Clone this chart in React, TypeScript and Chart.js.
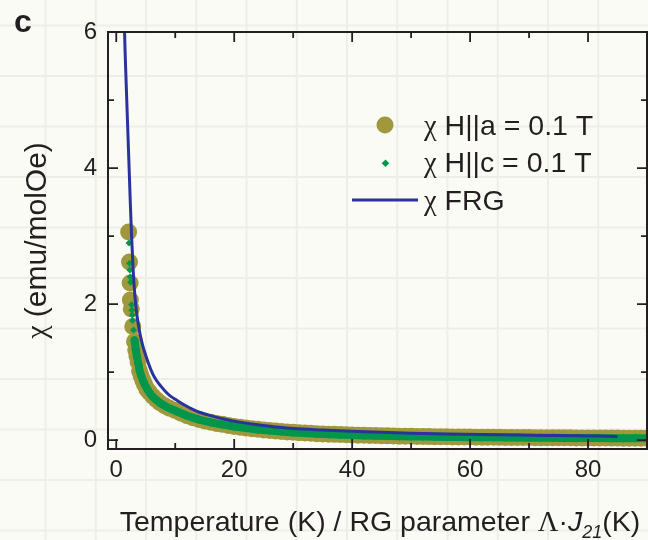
import React, { useEffect, useRef } from 'react';
import { Chart, registerables } from 'chart.js';

Chart.register(...registerables);

// ---------- data ----------
const oliveT = [
  2.1, 2.25, 2.35, 2.4, 2.55, 2.8, 3.1, 3.3, 3.5, 3.7, 3.95, 4.2, 4.5, 4.8, 5.2, 5.65, 6.2, 6.8, 7.4, 8.2, 9.0,
  10, 11, 12, 13, 14, 15, 16, 17, 18, 19, 20, 21, 22, 23, 24, 25, 26, 27, 28, 29, 30,
  31, 32, 33, 34, 35, 36, 37, 38, 39, 40, 41, 42, 43, 44, 45, 46, 47, 48, 49, 50,
  51, 52, 53, 54, 55, 56, 57, 58, 59, 60, 61, 62, 63, 64, 65, 66, 67, 68, 69, 70,
  71, 72, 73, 74, 75, 76, 77, 78, 79, 80, 81, 82, 83, 84, 85, 86, 87, 88, 89, 90, 91, 92,
];
const oliveChi = [
  3.06, 2.62, 2.31, 2.06, 1.93, 1.67, 1.45, 1.33, 1.24, 1.15, 1.02, 0.95, 0.88, 0.82, 0.75, 0.7, 0.645, 0.595, 0.55, 0.505, 0.47,
  0.435, 0.395, 0.36, 0.33, 0.303, 0.28, 0.262, 0.245, 0.232, 0.216, 0.202, 0.19, 0.179, 0.168, 0.159, 0.15, 0.142, 0.135, 0.128, 0.121, 0.115,
  0.11, 0.105, 0.1, 0.096, 0.092, 0.088, 0.085, 0.082, 0.079, 0.076, 0.073, 0.071, 0.069, 0.067, 0.065, 0.063, 0.061, 0.059, 0.058, 0.056,
  0.055, 0.053, 0.052, 0.051, 0.05, 0.049, 0.048, 0.047, 0.046, 0.045, 0.044, 0.043, 0.043, 0.042, 0.041, 0.04, 0.04, 0.039, 0.038, 0.038,
  0.037, 0.036, 0.036, 0.035, 0.035, 0.034, 0.034, 0.033, 0.033, 0.032, 0.032, 0.031, 0.031, 0.03, 0.03, 0.029, 0.029, 0.029, 0.028, 0.028, 0.027, 0.027,
];

const greenT = [
  2.17, 2.26, 2.31, 2.38, 2.43, 2.6, 2.65, 2.72, 2.77, 2.94, 3.1, 3.3, 3.5, 3.75, 4.0, 4.3, 4.6, 5.0, 5.5, 6.0, 6.6, 7.3, 8.0, 9.0,
  10, 12, 14, 16, 18, 20, 22, 24, 26, 28, 30, 32, 34, 36, 38, 40, 42, 44, 46, 48, 50,
  52, 54, 56, 58, 60, 62, 64, 66, 68, 70, 72, 74, 76, 78, 80, 82, 84, 86, 88, 90, 92,
];
const greenChi = [
  2.9, 2.6, 2.5, 2.4, 2.32, 1.99, 1.91, 1.84, 1.76, 1.62, 1.47, 1.34, 1.23, 1.12, 1.01, 0.93, 0.86, 0.79, 0.715, 0.655, 0.605, 0.555, 0.515, 0.47,
  0.432, 0.358, 0.302, 0.262, 0.229, 0.2, 0.178, 0.158, 0.141, 0.127, 0.114, 0.104, 0.095, 0.087, 0.081, 0.075, 0.07, 0.066, 0.062, 0.058, 0.055,
  0.052, 0.05, 0.048, 0.046, 0.044, 0.042, 0.041, 0.039, 0.038, 0.037, 0.035, 0.034, 0.033, 0.032, 0.031, 0.03, 0.029, 0.028, 0.028, 0.027, 0.026,
];

const frgT = [
  1.35, 1.41, 1.6, 1.8, 2.0, 2.2, 2.4, 2.6, 2.8, 3.0, 3.4, 3.9, 4.4, 4.8, 5.5, 6.2, 6.8, 7.6, 8.5, 9.3, 10.2,
  11.5, 12.8, 14.1, 16, 18, 20.9, 24, 27, 30, 35, 40, 45, 50, 56, 62, 68, 75, 85,
];
const frgChi = [
  6.3, 6.0, 5.45, 4.95, 4.45, 3.95, 3.45, 3.0, 2.62, 2.3, 1.91, 1.62, 1.42, 1.3, 1.12, 0.97, 0.88, 0.79, 0.7, 0.64, 0.59,
  0.52, 0.46, 0.41, 0.36, 0.315, 0.265, 0.225, 0.195, 0.17, 0.148, 0.13, 0.115, 0.103, 0.092, 0.083, 0.075, 0.067, 0.055,
];

const xMajorTicks = [0, 20, 40, 60, 80];
const xTickLabels = ['0', '20', '40', '60', '80'];
const yMajorTicks = [0, 2, 4, 6];
const yTickLabels = ['0', '2', '4', '6'];
const legendLabels = [' H||a = 0.1 T', ' H||c = 0.1 T', ' FRG'];
const chiSymbol = 'χ';
const panelLabel = 'c';
const yTitleRest = ' (emu/molOe)';
const xTitleMain = 'Temperature (K) / RG parameter ';
const xTitleLambda = 'Λ';
const xTitleDot = '·';
const xTitleJ = 'J';
const xTitleSub = '21';
const xTitleUnit = '(K)';

// ---------- styles ----------
const OLIVE = '#a0983c';
const GREEN = '#00964b';
const BLUE = '#2a339c';
const INK = '#231f20';
const BG = '#fbfbf6';
const SANS = '"Liberation Sans", Arial, Helvetica, sans-serif';
const SERIF = '"Liberation Serif", "Times New Roman", serif';

const pts = (xs: number[], ys: number[]) => xs.map((x, i) => ({ x, y: ys[i] }));

type Run = { text: string; font: string; dy?: number };

function runsWidth(ctx: CanvasRenderingContext2D, runs: Run[]) {
  let w = 0;
  for (const r of runs) {
    ctx.font = r.font;
    w += ctx.measureText(r.text).width;
  }
  return w;
}

function drawRuns(ctx: CanvasRenderingContext2D, runs: Run[], x: number, y: number) {
  let cx = x;
  for (const r of runs) {
    ctx.font = r.font;
    ctx.fillText(r.text, cx, y + (r.dy || 0));
    cx += ctx.measureText(r.text).width;
  }
}

const decorPlugin = {
  id: 'decor',
  beforeDraw(chart: any) {
    const { ctx, width, height } = chart;
    ctx.save();
    ctx.fillStyle = BG;
    ctx.fillRect(0, 0, width, height);
    ctx.strokeStyle = 'rgba(110,110,100,0.09)';
    ctx.lineWidth = 2;
    ctx.beginPath();
    for (let x = 45.5; x < width; x += 50.25) {
      ctx.moveTo(x, 0);
      ctx.lineTo(x, height);
    }
    for (let y = 25.5; y < height; y += 50.5) {
      ctx.moveTo(0, y);
      ctx.lineTo(width, y);
    }
    ctx.stroke();
    ctx.restore();
  },
  afterDraw(chart: any) {
    const { ctx, chartArea } = chart;
    const { left, right, top, bottom } = chartArea;
    const xs = chart.scales.x;
    const ys = chart.scales.y;
    ctx.save();
    ctx.strokeStyle = INK;
    ctx.fillStyle = INK;
    // frame
    ctx.lineWidth = 2;
    ctx.strokeRect(left, top, right - left, bottom - top);
    // ticks (inward, mirrored)
    ctx.lineWidth = 1.8;
    ctx.beginPath();
    for (const t of xs.ticks) {
      const px = xs.getPixelForValue(t.value);
      const len = xMajorTicks.includes(t.value) ? 10 : 6;
      ctx.moveTo(px, bottom);
      ctx.lineTo(px, bottom - len);
      ctx.moveTo(px, top);
      ctx.lineTo(px, top + len);
    }
    for (const t of ys.ticks) {
      const py = ys.getPixelForValue(t.value);
      const len = yMajorTicks.includes(t.value) ? 10 : 6;
      ctx.moveTo(left, py);
      ctx.lineTo(left + len, py);
      ctx.moveTo(right, py);
      ctx.lineTo(right - len, py);
    }
    ctx.stroke();

    // panel label
    ctx.textAlign = 'left';
    ctx.textBaseline = 'alphabetic';
    ctx.font = `bold 32px ${SANS}`;
    ctx.fillText(panelLabel, 14, 32);

    // x title
    const xRuns: Run[] = [
      { text: xTitleMain, font: `28.5px ${SANS}` },
      { text: xTitleLambda, font: `28.5px ${SERIF}` },
      { text: xTitleDot, font: `28.5px ${SANS}` },
      { text: xTitleJ, font: `italic 28.5px ${SANS}` },
      { text: xTitleSub, font: `italic 18px ${SANS}`, dy: 7 },
      { text: xTitleUnit, font: `28.5px ${SANS}` },
    ];
    const xw = runsWidth(ctx, xRuns);
    drawRuns(ctx, xRuns, 380 - xw / 2, 531);

    // y title
    const yRuns: Run[] = [
      { text: chiSymbol, font: `30px ${SERIF}` },
      { text: yTitleRest, font: `30px ${SANS}` },
    ];
    ctx.save();
    ctx.translate(38, (top + bottom) / 2);
    ctx.rotate(-Math.PI / 2);
    ctx.textBaseline = 'middle';
    const yw = runsWidth(ctx, yRuns);
    drawRuns(ctx, yRuns, -yw / 2, 0);
    ctx.restore();

    // legend
    const lx = 424;
    const rows = [135, 172, 210];
    ctx.fillStyle = OLIVE;
    ctx.beginPath();
    ctx.arc(385, 125, 8.5, 0, Math.PI * 2);
    ctx.fill();
    ctx.fillStyle = GREEN;
    ctx.beginPath();
    ctx.moveTo(385.5, 163.3 - 3.8);
    ctx.lineTo(389.3, 163.3);
    ctx.lineTo(385.5, 163.3 + 3.8);
    ctx.lineTo(381.7, 163.3);
    ctx.closePath();
    ctx.fill();
    ctx.strokeStyle = BLUE;
    ctx.lineWidth = 3.2;
    ctx.beginPath();
    ctx.moveTo(352, 200);
    ctx.lineTo(418, 200);
    ctx.stroke();
    ctx.fillStyle = INK;
    legendLabels.forEach((lab, i) => {
      drawRuns(
        ctx,
        [
          { text: chiSymbol, font: `28.5px ${SERIF}` },
          { text: lab, font: `28.5px ${SANS}` },
        ],
        lx,
        rows[i]
      );
    });
    ctx.restore();
  },
};

export default function App() {
  const ref = useRef<HTMLCanvasElement | null>(null);

  useEffect(() => {
    document.body.style.margin = '0';
    const canvas = ref.current;
    if (!canvas) return;
    const chart = new Chart(canvas, {
      type: 'scatter',
      data: {
        datasets: [
          {
            label: 'χ FRG',
            data: pts(frgT, frgChi),
            showLine: true,
            borderColor: BLUE,
            borderWidth: 3,
            pointRadius: 0,
            cubicInterpolationMode: 'monotone',
            order: 0,
            clip: 0,
          } as any,
          {
            label: 'χ H||c = 0.1 T',
            data: pts(greenT, greenChi),
            showLine: true,
            borderColor: GREEN,
            borderWidth: 8,
            borderJoinStyle: 'round',
            borderCapStyle: 'round',
            segment: {
              borderColor: (c: any) => (c.p0.parsed.y > 1.5 ? 'rgba(0,0,0,0)' : undefined),
            },
            pointStyle: 'rectRot',
            pointRadius: (c: any) => (c.raw && c.raw.y > 1.5 ? 3.5 : 4.5),
            pointBackgroundColor: GREEN,
            pointBorderWidth: 0,
            order: 1,
            clip: 0,
          } as any,
          {
            label: 'χ H||a = 0.1 T',
            data: pts(oliveT, oliveChi),
            showLine: false,
            pointRadius: 8.5,
            pointBackgroundColor: OLIVE,
            pointBorderWidth: 0,
            borderWidth: 0,
            order: 2,
            clip: 0,
          } as any,
        ],
      },
      options: {
        responsive: false,
        maintainAspectRatio: false,
        devicePixelRatio: 1,
        animation: false,
        events: [],
        layout: { autoPadding: false, padding: { left: 0, right: 1, top: 32, bottom: 0 } },
        plugins: {
          legend: { display: false },
          tooltip: { enabled: false },
        },
        scales: {
          x: {
            type: 'linear',
            position: 'bottom',
            min: -1.4,
            max: 90,
            grid: { display: false, drawTicks: false },
            border: { display: false },
            ticks: {
              stepSize: 10,
              includeBounds: false,
              autoSkip: false,
              maxRotation: 0,
              padding: 7,
              color: INK,
              font: { family: SANS, size: 24 },
              callback: (v: any) => {
                const i = xMajorTicks.indexOf(Number(v));
                return i >= 0 ? xTickLabels[i] : '';
              },
            },
            afterFit: (s: any) => {
              s.height = 91;
              s.paddingLeft = 0;
              s.paddingRight = 0;
            },
          },
          y: {
            type: 'linear',
            position: 'left',
            min: -0.13,
            max: 6,
            grid: { display: false, drawTicks: false },
            border: { display: false },
            ticks: {
              stepSize: 1,
              includeBounds: false,
              autoSkip: false,
              padding: 11,
              color: INK,
              font: { family: SANS, size: 24 },
              callback: (v: any) => {
                const i = yMajorTicks.indexOf(Number(v));
                return i >= 0 ? yTickLabels[i] : '';
              },
            },
            afterFit: (s: any) => {
              s.width = 108;
              s.paddingTop = 0;
              s.paddingBottom = 0;
            },
          },
        },
      },
      plugins: [decorPlugin],
    });
    return () => chart.destroy();
  }, []);

  return (
    <div style={{ width: 648, height: 540 }}>
      <canvas ref={ref} width={648} height={540} style={{ display: 'block', width: 648, height: 540 }} />
    </div>
  );
}
